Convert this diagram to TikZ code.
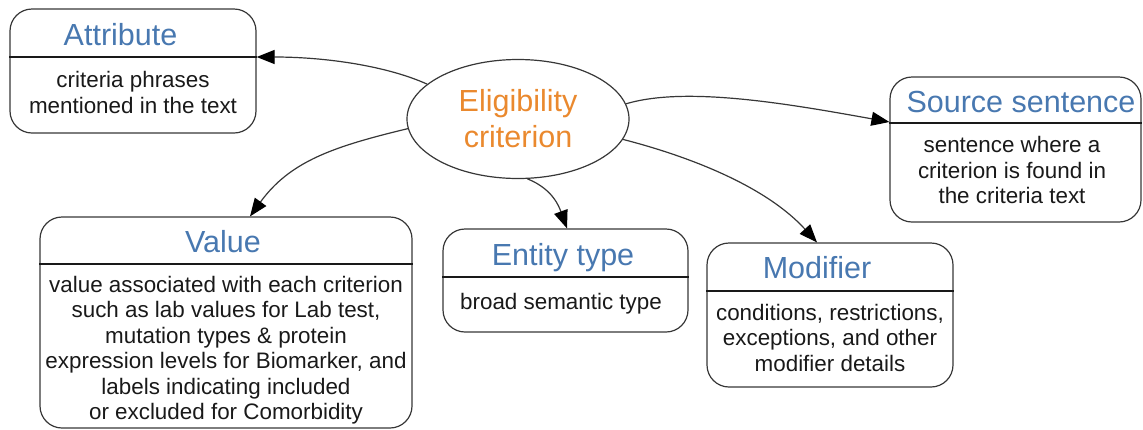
\documentclass[tikz,border=0pt]{standalone}
\usepackage{fontspec}
\setmainfont{Liberation Sans}
\usetikzlibrary{arrows.meta,shapes.geometric}

\definecolor{headblue}{RGB}{72,120,176}
\definecolor{critorange}{RGB}{234,137,46}
\definecolor{inkgray}{RGB}{55,55,55}
\definecolor{bodyink}{RGB}{25,25,25}

\newcommand\headfont{\fontsize{30.5}{36}\selectfont}
\newcommand\bodyfont{\fontsize{22.4}{25.5}\selectfont}

\tikzset{
  card/.style={draw=inkgray, line width=1.2pt, rounded corners=22pt, inner sep=0pt},
  headtext/.style={font=\headfont, text=headblue, anchor=base, inner sep=0pt},
  bodytext/.style={font=\bodyfont, text=bodyink, align=center, inner sep=0pt},
  rule/.style={line width=2pt, black!90},
  link/.style={-{Triangle[length=18pt,width=14pt,color=black]}, line width=1.2pt, draw=inkgray}
}

\begin{document}
\begin{tikzpicture}[x=1pt,y=-1pt]
\useasboundingbox (0,0) rectangle (1143,429);

% central concept
\node[ellipse, draw=inkgray, line width=1.2pt, minimum width=222pt, minimum height=119pt,
      inner sep=0pt, font=\headfont, text=critorange, align=center] (ell) at (518,119)
      {Eligibility\\criterion};

% boxes
\node[card, minimum width=246pt, minimum height=124pt] (attr) at (133,71) {};
\node[card, minimum width=251pt, minimum height=145pt] (src) at (1015.5,149.5) {};
\node[card, minimum width=372pt, minimum height=211pt] (value) at (226,322.5) {};
\node[card, minimum width=245pt, minimum height=103pt] (entity) at (565.5,280.5) {};
\node[card, minimum width=246pt, minimum height=144pt] (mod) at (830,315) {};

% dividers under the headings
\draw[rule] ([yshift=14pt]attr.west) -- ([yshift=14pt]attr.east);
\draw[rule] ([yshift=26.5pt]src.west) -- ([yshift=26.5pt]src.east);
\draw[rule] ([yshift=58.5pt]value.west) -- ([yshift=58.5pt]value.east);
\draw[rule] ([yshift=3.5pt]entity.west) -- ([yshift=3.5pt]entity.east);
\draw[rule] ([yshift=24pt]mod.west) -- ([yshift=24pt]mod.east);

% headings
\node[headtext] (attrT) at (120.5,45) {Attribute};
\node[headtext] (srcT) at (1021,112) {Source sentence};
\node[headtext] (valueT) at (223,252) {Value};
\node[headtext] (entityT) at (563,265) {Entity type};
\node[headtext] (modT) at (817,278) {Modifier};

% descriptions
\node[bodytext] (attrB) at (133,92.5) {criteria phrases\\mentioned in the text};
\node[bodytext] (srcB) at (1012,170) {sentence where a\\criterion is found in\\the criteria text};
\node[bodytext] (valueB) at (226,350) {value associated with each criterion\\such as lab values for Lab test,\\mutation types \& protein\\expression levels for Biomarker, and\\labels indicating included\\or excluded for Comorbidity};
\node[bodytext, anchor=base] (entityB) at (561,309) {broad semantic type};
\node[bodytext] (modB) at (830,337.5) {conditions, restrictions,\\exceptions, and other\\modifier details};

% connectors
\draw[link] (ell.159) .. controls +(-40,-18) and +(70,0) .. ([yshift=14pt]attr.east);
\draw[link] (ell.8) .. controls +(60,-18) and +(-100,-18) .. ([yshift=27.5pt]src.west);
\draw[link] (ell.185) .. controls +(-75,18) and +(40,-55) .. ([xshift=24pt]value.north);
\draw[link] (ell.279) .. controls +(25,10) and +(-8,-22) .. ([xshift=1.5pt]entity.north);
\draw[link] (ell.349) .. controls +(70,18) and +(-50,-55) .. ([xshift=-13pt]mod.north);
\end{tikzpicture}
\end{document}
